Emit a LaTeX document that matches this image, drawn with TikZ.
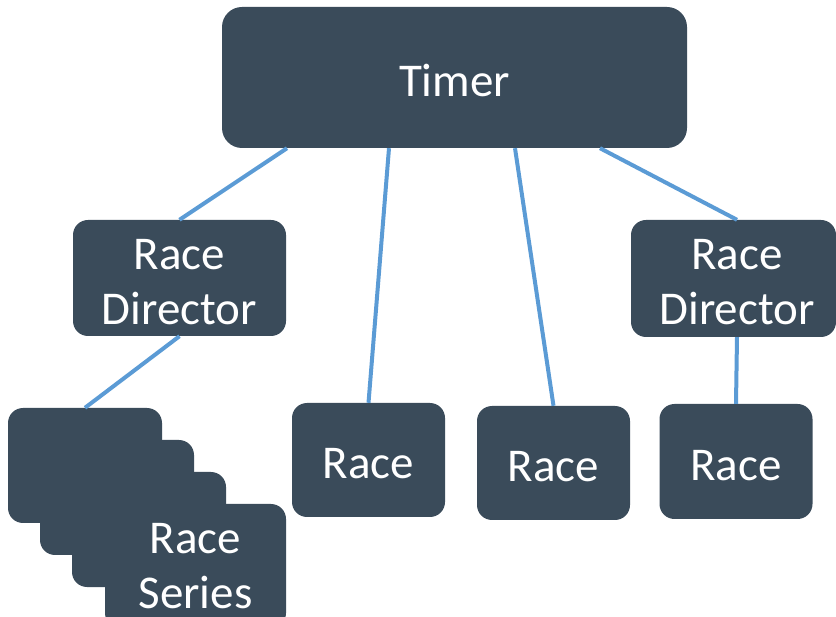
\documentclass[tikz,border=0pt]{standalone}
\usepackage{fontspec}
\setmainfont{Carlito}
\definecolor{boxfill}{HTML}{3A4B5A}
\definecolor{linkblue}{HTML}{5B9BD5}
\NewDocumentCommand{\boxtext}{O{0pt} O{8pt} m}{\hspace*{#1}\raisebox{-#2}[\height][\depth]{\begin{tabular}{@{}c@{}}#3\end{tabular}}}
\tikzset{
  box/.style={draw=none, fill=boxfill, rounded corners=15pt, inner sep=0pt,
    text=white, align=center, font=\fontsize{47}{55}\selectfont},
  link/.style={draw=linkblue, line width=4pt}
}
\begin{document}
\begin{tikzpicture}[x=1pt,y=-1pt]
\useasboundingbox (0,0) rectangle (836,617);
\node[box, rounded corners=20pt, minimum width=465pt, minimum height=141pt] (timer) at (454.5,77.5) {\boxtext{Timer}};
\node[box, minimum width=213pt, minimum height=116pt] (rdl) at (179.5,278) {\boxtext{Race\\Director}};
\node[box, minimum width=205pt, minimum height=117pt] (rdr) at (733.5,278.5) {\boxtext[7pt]{Race\\Director}};
\node[box, minimum width=153pt, minimum height=114pt] (race1) at (368.5,460) {\boxtext{Race}};
\node[box, minimum width=153pt, minimum height=114pt] (race2) at (553.5,463) {\boxtext{Race}};
\node[box, minimum width=153pt, minimum height=115pt] (race3) at (736,461.5) {\boxtext{Race}};
\node[box, minimum width=154pt, minimum height=115pt] (stack1) at (85,465.5) {};
\node[box, minimum width=154pt, minimum height=115pt] (stack2) at (117,497.5) {};
\node[box, minimum width=154pt, minimum height=115pt] (stack3) at (149,529.5) {};
\node[box, minimum width=181pt, minimum height=124pt] (stack4) at (195.5,566) {\boxtext[0pt][4pt]{Race\\Series}};
\draw[link] ([xshift=-167.5pt]timer.south) -- (rdl.north);
\draw[link] ([xshift=-65.5pt]timer.south) -- (race1.north);
\draw[link] ([xshift=60.5pt]timer.south) -- (race2.north);
\draw[link] ([xshift=145.5pt]timer.south) -- ([xshift=3.5pt]rdr.north);
\draw[link] (rdl.south) -- (stack1.north);
\draw[link] ([xshift=3.5pt]rdr.south) -- (race3.north);
\end{tikzpicture}
\end{document}
